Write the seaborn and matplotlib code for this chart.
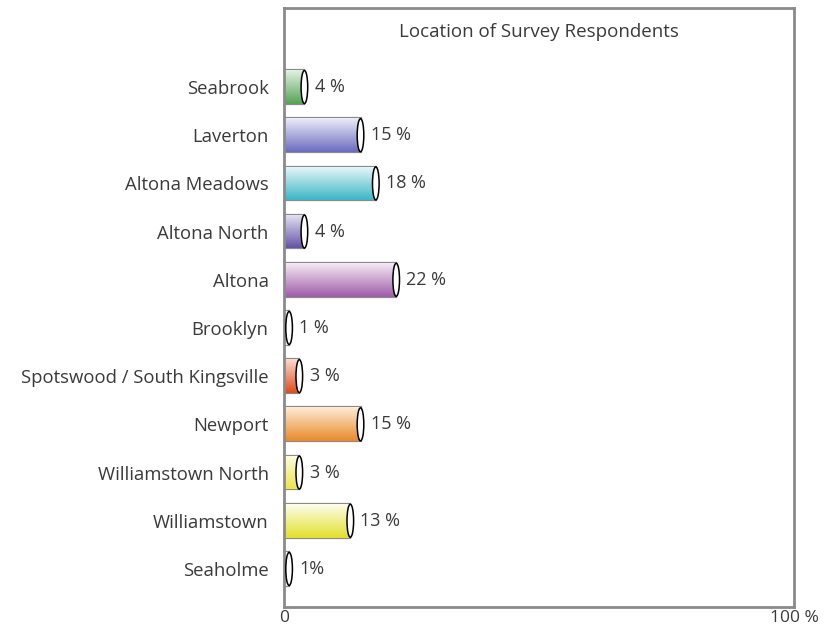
import matplotlib
matplotlib.use("Agg")
import matplotlib.pyplot as plt
from matplotlib.patches import Ellipse
from matplotlib.colors import LinearSegmentedColormap
import numpy as np
import pandas as pd
import seaborn as sns

locations = ["Seabrook", "Laverton", "Altona Meadows", "Altona North", "Altona",
             "Brooklyn", "Spotswood / South Kingsville", "Newport",
             "Williamstown North", "Williamstown", "Seaholme"]
percent = [4, 15, 18, 4, 22, 1, 3, 15, 3, 13, 1]
value_labels = ["4 %", "15 %", "18 %", "4 %", "22 %", "1 %", "3 %", "15 %",
                "3 %", "13 %", "1%"]
# (top, bottom) shades of each cylinder
shades = [("#e2f1e2", "#56a456"), ("#ececfa", "#6c6cc0"), ("#eaf8fa", "#3cb6c6"),
          ("#e6e4f4", "#6454a6"), ("#f4eaf4", "#a05ca8"), ("#ffffff", "#f4f4f4"),
          ("#fadcd0", "#e04c1c"), ("#fdebd6", "#ea8a2c"), ("#fdfde4", "#ece44a"),
          ("#fdfdec", "#e2e02c"), ("#ffffff", "#f4f4f4")]

sns.set_style("white")
plt.rcParams["font.family"] = ["Open Sans", "DejaVu Sans"]

df = pd.DataFrame({"location": locations, "percent": percent})

fig = plt.figure(figsize=(8.31, 6.32), dpi=100)
ax = fig.add_axes([284 / 831, 1 - 607 / 632, 510 / 831, 599 / 632])

sns.barplot(data=df, x="percent", y="location", orient="h", color="white",
            edgecolor="#8a8a8a", linewidth=1.6, width=0.7, ax=ax, zorder=2)

text_color = "#3a3a3a"
for i, patch in enumerate(ax.patches):
    x0, y0 = patch.get_x(), patch.get_y()
    w, h = patch.get_width(), patch.get_height()
    cmap = LinearSegmentedColormap.from_list("g", [shades[i][0], shades[i][1]])
    grad = np.linspace(0, 1, 64).reshape(-1, 1)
    img = ax.imshow(grad, cmap=cmap, aspect="auto", origin="upper",
                    extent=(x0, x0 + w, y0 + h, y0), zorder=2.5)
    img.set_clip_path(patch)
    cy = y0 + h / 2
    ax.add_patch(Ellipse((x0 + w, cy), 1.3, h * 0.98, facecolor="white",
                         edgecolor="black", linewidth=1.1, zorder=3))
    ax.text(x0 + w + 2.0, cy, value_labels[i], va="center", ha="left",
            fontsize=13, color=text_color)

ax.set_xlim(0, 100)
ax.set_ylim(10.79, -1.64)
ax.set_xticks([0, 100])
ax.set_xticklabels(["0", "100 %"])
ax.set_xlabel("")
ax.set_ylabel("")
ax.tick_params(axis="y", length=0, pad=11, labelsize=13.3, labelcolor=text_color)
ax.tick_params(axis="x", length=0, pad=2, labelsize=12.5, labelcolor=text_color)
for s in ax.spines.values():
    s.set_visible(True)
    s.set_color("#8a8a8a")
    s.set_linewidth(2)

ax.text(0.5, 0.96, "Location of Survey Respondents", transform=ax.transAxes,
        ha="center", va="center", fontsize=13.5, color=text_color)

fig.savefig("out.png", dpi=100)
